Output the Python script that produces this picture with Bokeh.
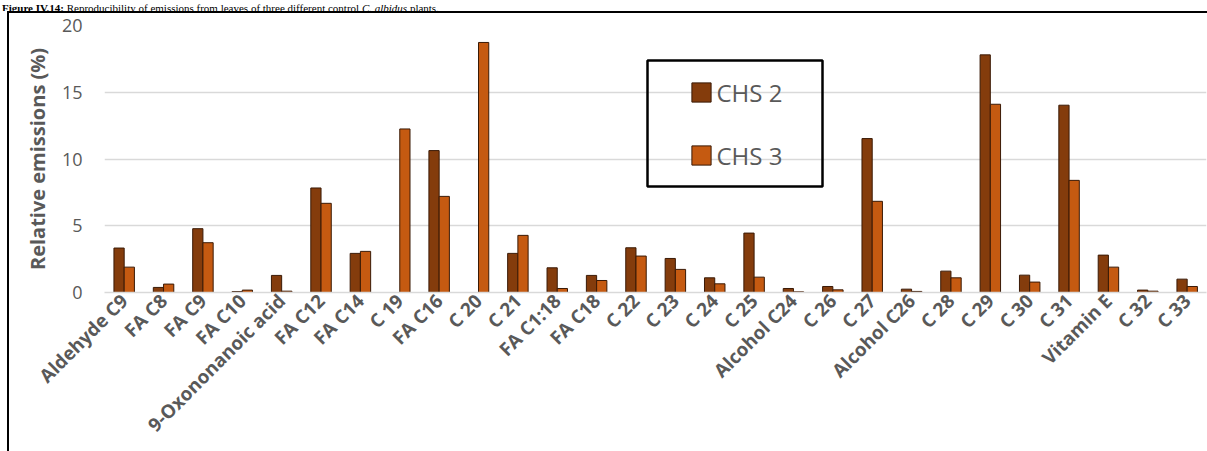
import math
from bokeh.plotting import figure
from bokeh.layouts import column
from bokeh.models import (Range1d, FixedTicker, Legend, LegendItem, BoxAnnotation,
                          ColumnDataSource, Div)
from bokeh.transform import dodge
from bokeh.embed import file_html
from bokeh.resources import INLINE

# ---------------- data ----------------
categories = ["Aldehyde C9", "FA C8", "FA C9", "FA C10", "9-Oxononanoic acid",
              "FA C12", "FA C14", "C 19", "FA C16", "C 20", "C 21", "FA C1:18",
              "FA C18", "C 22", "C 23", "C 24", "C 25", "Alcohol C24", "C 26",
              "C 27", "Alcohol C26", "C 28", "C 29", "C 30", "C 31", "Vitamin E",
              "C 32", "C 33"]
chs2 = [3.33, 0.38, 4.78, 0.07, 1.28, 7.83, 2.93, 0.0, 10.63, 0.0, 2.93, 1.85,
        1.28, 3.35, 2.55, 1.10, 4.45, 0.30, 0.45, 11.53, 0.25, 1.60, 17.80,
        1.30, 14.03, 2.80, 0.18, 1.00]
chs3 = [1.90, 0.63, 3.73, 0.18, 0.10, 6.68, 3.08, 12.25, 7.20, 18.73, 4.28,
        0.30, 0.90, 2.73, 1.73, 0.65, 1.15, 0.05, 0.20, 6.83, 0.08, 1.10,
        14.10, 0.78, 8.40, 1.90, 0.10, 0.45]
series_names = ["CHS 2", "CHS 3"]
y_ticks = [0, 5, 10, 15, 20]
y_label = "Relative emissions (%)"
caption_bold = "Figure IV.14:"
caption_regular = " Reproducibility of emissions from leaves of three different control "
caption_italic = "C. albidus"
caption_end = " plants."

# ---------------- layout (page pixels) ----------------
W = 1207
CAP_H = 11                      # caption strip height
H = 451 - CAP_H                 # figure height
FRAME_L, FRAME_R = 104, 1206
FRAME_T_PAGE, FRAME_B_PAGE = 25, 292
FRAME_T, FRAME_B = FRAME_T_PAGE - CAP_H, FRAME_B_PAGE - CAP_H
PX_PER_CAT = 39.37
X_START = -0.5
X_END = X_START + (FRAME_R - FRAME_L) / PX_PER_CAT
Y_END = 20.0
PX_PER_Y = (FRAME_B - FRAME_T) / Y_END


def cx(px):
    """page px -> data x"""
    return X_START + (px - FRAME_L) / PX_PER_CAT


def cy(py):
    """page px -> data y"""
    return (FRAME_B_PAGE - py) / PX_PER_Y


DARK = "#843c0c"
ORANGE = "#c55a11"
EDGE = "#3a1a06"
GRAY = "#595959"

src = ColumnDataSource(dict(x=list(range(len(categories))), chs2=chs2, chs3=chs3))

p = figure(width=W, height=H, output_backend="svg", toolbar_location=None,
           x_range=Range1d(X_START, X_END), y_range=Range1d(0, Y_END),
           min_border_left=FRAME_L, min_border_right=W - FRAME_R,
           min_border_top=FRAME_T, min_border_bottom=H - FRAME_B)
p.outline_line_color = None
p.background_fill_color = None
p.border_fill_color = None
# outer chart border: only its top and left edges are inside the crop
p.styles = {"background": "linear-gradient(#000,#000) 7px 0px / 2px 100% no-repeat, "
                          "linear-gradient(#000,#000) 7px 0px / 100% 2px no-repeat, "
                          "#ffffff"}

r1 = p.vbar(x=dodge("x", -0.13, range=p.x_range), top="chs2", width=0.26, source=src,
            fill_color=DARK, line_color=EDGE, line_width=1)
r2 = p.vbar(x=dodge("x", 0.13, range=p.x_range), top="chs3", width=0.26, source=src,
            fill_color=ORANGE, line_color=EDGE, line_width=1)

# grid
p.xgrid.grid_line_color = None
p.ygrid.grid_line_color = "#d9d9d9"
p.ygrid.grid_line_width = 1.5
p.ygrid.ticker = FixedTicker(ticks=y_ticks)

# y axis
p.yaxis.ticker = FixedTicker(ticks=y_ticks)
p.yaxis.axis_line_color = None
p.yaxis.major_tick_line_color = None
p.yaxis.minor_tick_line_color = None
p.yaxis.major_tick_out = 0
p.yaxis.major_tick_in = 0
p.yaxis.major_label_standoff = 22
p.yaxis.major_label_text_font = "Open Sans"
p.yaxis.major_label_text_font_size = "18px"
p.yaxis.major_label_text_color = GRAY
p.yaxis.axis_label = y_label
p.yaxis.axis_label_text_font = "Open Sans"
p.yaxis.axis_label_text_font_style = "bold"
p.yaxis.axis_label_text_font_size = "20px"
p.yaxis.axis_label_text_color = GRAY
p.yaxis.axis_label_standoff = 8

# x axis
p.xaxis.ticker = FixedTicker(ticks=list(range(len(categories))))
p.xaxis.major_label_overrides = {i: c for i, c in enumerate(categories)}
p.xaxis.axis_line_color = "#d9d9d9"
p.xaxis.axis_line_width = 1.5
p.xaxis.major_tick_line_color = None
p.xaxis.minor_tick_line_color = None
p.xaxis.major_tick_out = 0
p.xaxis.major_tick_in = 0
p.xaxis.major_label_orientation = math.pi / 4
p.xaxis.major_label_standoff = 5
p.xaxis.major_label_text_font = "Open Sans"
p.xaxis.major_label_text_font_style = "bold"
p.xaxis.major_label_text_font_size = "18.8px"
p.xaxis.major_label_text_color = GRAY

# legend (its frame is drawn separately)
legend = Legend(items=[LegendItem(label=series_names[0], renderers=[r1]),
                       LegendItem(label=series_names[1], renderers=[r2])],
                location=(688.5 - FRAME_L, FRAME_B_PAGE - 172), orientation="vertical",
                padding=0, margin=0, spacing=29, glyph_width=24, glyph_height=24,
                label_height=34, label_standoff=4, label_text_font="Open Sans",
                label_text_font_size="24px", label_text_color=GRAY,
                border_line_color=None, background_fill_alpha=0)
p.add_layout(legend)

p.add_layout(BoxAnnotation(left=cx(647), right=cx(822), top=cy(60), bottom=cy(186),
                           fill_alpha=0, line_color="black", line_alpha=1,
                           line_width=2.5))

# caption strip above the chart
caption_html = ('<div style="font-family:\'Liberation Serif\',serif;font-size:11px;'
                'line-height:11px;white-space:nowrap;color:#000;padding-left:2px">'
                f'<b>{caption_bold}</b>{caption_regular}<i>{caption_italic}</i>'
                f'{caption_end}</div>')
cap = Div(text=caption_html, width=W, height=CAP_H, margin=0)

layout = column(cap, p, spacing=0)
open("out.html", "w").write(file_html(layout, INLINE))
